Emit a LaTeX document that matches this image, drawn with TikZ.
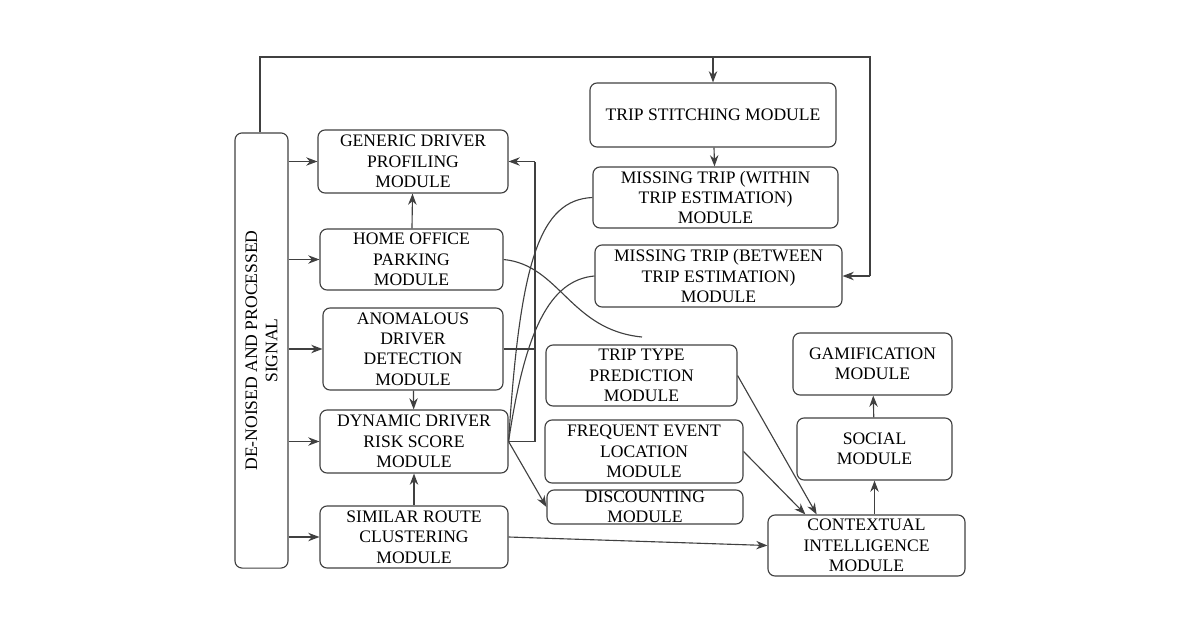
\documentclass[tikz,border=0pt]{standalone}
\usepackage{fontspec}
\setmainfont{Liberation Serif}
\usetikzlibrary{arrows.meta}
\tikzset{
  mod/.style={draw=black!75,rounded corners=5pt,thick,align=center,inner sep=0pt,
    font=\fontsize{12.5}{14.5}\selectfont},
  arr/.style={-{Stealth[length=8pt,width=6pt]},thick,draw=black!75},
  ln/.style={thick,draw=black!75}
}
\newcommand{\modbox}[6]% name, x1, y1, x2, y2, text
{\node[mod,minimum width={(#4-#2)*0.025cm},minimum height={(#5-#3)*0.025cm}]
   (#1) at ({(#2+#4)/2},{(#3+#5)/2}) {#6};}

\begin{document}
\begin{tikzpicture}[x=0.025cm,y=-0.025cm]
  \useasboundingbox (0,0) rectangle (1200,630);
  % signal column
  \node[mod,minimum width=1.325cm,minimum height=10.875cm] (sig) at (261.5,350.5) {};
  \node[rotate=90,align=center,font=\fontsize{12.5}{14.5}\selectfont] at (sig) {DE-NOISED AND PROCESSED\\SIGNAL};
  % left column
  \modbox{gen}{318}{130}{508}{193}{GENERIC DRIVER\\PROFILING\\MODULE}
  \modbox{home}{320}{229}{503}{290}{HOME OFFICE\\PARKING\\MODULE}
  \modbox{anom}{323}{308}{503}{390}{ANOMALOUS\\DRIVER\\DETECTION\\MODULE}
  \modbox{dyn}{320}{410}{508}{473}{DYNAMIC DRIVER\\RISK SCORE\\MODULE}
  \modbox{sim}{320}{506}{508}{568}{SIMILAR ROUTE\\CLUSTERING\\MODULE}
  % upper right column
  \modbox{stitch}{590}{83}{836}{147}{TRIP STITCHING MODULE}
  \modbox{within}{593}{167}{838}{228}{MISSING TRIP (WITHIN\\TRIP ESTIMATION)\\MODULE}
  \modbox{between}{595}{245}{842}{307}{MISSING TRIP (BETWEEN\\TRIP ESTIMATION)\\MODULE}
  % middle column
  \modbox{type}{546}{345}{737}{406}{TRIP TYPE\\PREDICTION\\MODULE}
  \modbox{freq}{545}{420}{743}{483}{FREQUENT EVENT\\LOCATION\\MODULE}
  \modbox{disc}{547}{490}{743}{524}{DISCOUNTING\\MODULE}
  % right column
  \modbox{gam}{793}{333}{952}{395}{GAMIFICATION\\MODULE}
  \modbox{soc}{797}{418}{952}{480}{SOCIAL\\MODULE}
  \modbox{ctx}{768}{515}{965}{576}{CONTEXTUAL\\INTELLIGENCE\\MODULE}
  % signal feeds
  \foreach \m in {gen,home,anom,dyn,sim}
    \draw[arr] (sig.east |- \m.west) -- (\m.west);
  % feedback loop over the top
  \coordinate (tl) at (260,57);
  \coordinate (tr) at (870,57);
  \draw[ln] (sig.north -| tl) -- (tl) -- (tr) -- (tr |- between.east);
  \draw[arr] (tr |- between.east) -- (between.east);
  \draw[arr] (stitch.north |- tl) -- (stitch.north);
  \draw[arr] (stitch) -- (within);
  % left column links
  \draw[arr] (home) -- (gen);
  \draw[arr] (anom) -- (dyn);
  \draw[arr] (sim) -- (dyn);
  \coordinate (bus) at (535,0);
  \draw[ln] (dyn.east) -- (dyn.east -| bus) -- (gen.east -| bus);
  \draw[arr] (gen.east -| bus) -- (gen.east);
  \draw[ln] (anom.east) -- (anom.east -| bus);
  \draw[arr] (dyn.east) -- (disc.west);
  \draw[ln] (dyn.east) .. controls (520,260) and (540,200) .. (within.west);
  \draw[ln] (dyn.east) .. controls (525,330) and (550,280) .. (between.west);
  \coordinate (hend) at (642,337);
  \draw[ln] (home.east) .. controls (560,265) and (570,330) .. (hend);
  % into contextual intelligence
  \draw[arr] (type.east) -- ([xshift=35]ctx.north west);
  \draw[arr] (freq.east) -- ([xshift=27]ctx.north west);
  \draw[arr] (sim.east) -- (ctx.west);
  \draw[arr] (ctx.north -| soc) -- (soc.south);
  \draw[arr] (soc) -- (gam);
\end{tikzpicture}
\end{document}
